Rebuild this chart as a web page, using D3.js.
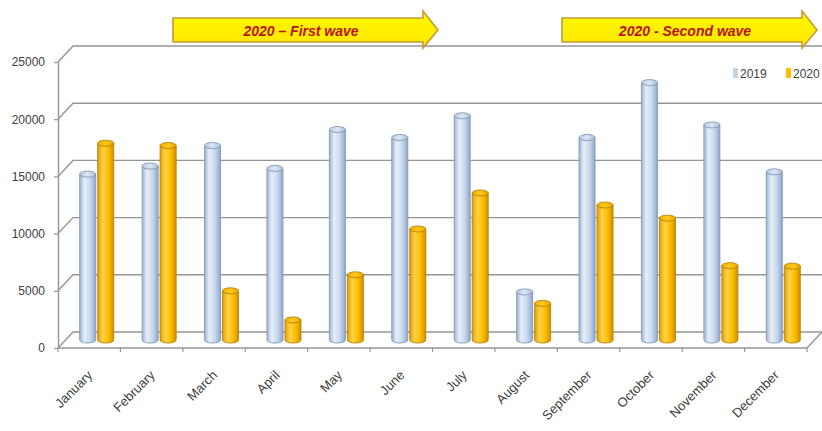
<!DOCTYPE html>
<html>
<head>
<meta charset="utf-8">
<script src="https://cdn.jsdelivr.net/npm/d3@7"></script>
<style>
  html, body { margin: 0; padding: 0; background: #ffffff; }
  svg { display: block; }
</style>
</head>
<body>
<svg id="chart" width="822" height="431"></svg>
<script>
// Monthly totals, 2019 vs 2020
const months = ["January", "February", "March", "April", "May", "June",
                "July", "August", "September", "October", "November", "December"];
const series = ["2019", "2020"];
const values2019 = [14500, 15200, 17000, 15000, 18400, 17700, 19600, 4200, 17700, 22500, 18800, 14700];
const values2020 = [17200, 17000, 4300, 1750, 5700, 9700, 12850, 3200, 11800, 10650, 6500, 6450];
const yTicks = [0, 5000, 10000, 15000, 20000, 25000];
const waveLabels = ["2020 \u2013 First wave", "2020 - Second wave"];

const svg = d3.select("#chart");
const W = 822;

// oblique depth of the 3D box (front face -> back wall)
const DX = 15, DY = -16;
const MX = DX / 2, MY = DY / 2;  // columns stand half-way into the box

const x = d3.scaleBand().domain(months).range([58, 807]);
const xs = d3.scaleBand().domain(series).range([-18, 18]);
const y = d3.scaleLinear().domain([0, 25000]).range([348, 62]);

const gridColor = "#959595";
const textColor = "#404040";
const font = "'Liberation Sans', Arial, sans-serif";

const defs = svg.append("defs");
function hGrad(id, stops) {
  const g = defs.append("linearGradient").attr("id", id)
    .attr("x1", "0%").attr("x2", "100%").attr("y1", "0%").attr("y2", "0%");
  stops.forEach(([o, c]) => g.append("stop").attr("offset", o).attr("stop-color", c));
}
hGrad("gBlue", [["0%", "#9fb4d2"], ["30%", "#e6eef9"], ["65%", "#c9d8ee"], ["100%", "#8fa7c8"]]);
hGrad("gOrange", [["0%", "#e2a000"], ["32%", "#ffd24a"], ["65%", "#ffbf00"], ["100%", "#d09000"]]);
hGrad("gBlueTop", [["0%", "#b7c9e2"], ["50%", "#dce6f4"], ["100%", "#aebfd8"]]);
hGrad("gOrangeTop", [["0%", "#f0b000"], ["50%", "#ffc81a"], ["100%", "#e8a800"]]);
const arrowGrad = defs.append("linearGradient").attr("id", "gArrow")
  .attr("x1", "0%").attr("x2", "0%").attr("y1", "0%").attr("y2", "100%");
arrowGrad.append("stop").attr("offset", "0%").attr("stop-color", "#fffa00");
arrowGrad.append("stop").attr("offset", "100%").attr("stop-color", "#ffe600");

const styles = {
  "2019": { fill: "url(#gBlue)", top: "url(#gBlueTop)", stroke: "#7f97b9", data: values2019 },
  "2020": { fill: "url(#gOrange)", top: "url(#gOrangeTop)", stroke: "#b58200", data: values2020 }
};

// ---- back wall gridlines with side-wall stubs ----
const x0 = x.range()[0], x1 = x.range()[1];
svg.append("g").selectAll("path").data(yTicks).join("path")
  .attr("d", v => `M${x0},${y(v)} L${x0 + DX},${y(v) + DY} L${W},${y(v) + DY}`)
  .attr("fill", "none").attr("stroke", gridColor).attr("stroke-width", 1.4);

// floor front edge and right edge
svg.append("path")
  .attr("d", `M${x0},${y(0)} L${x1},${y(0)} L${x1 + DX},${y(0) + DY}`)
  .attr("fill", "none").attr("stroke", gridColor).attr("stroke-width", 1.4);

// ---- y axis ----
const yAxis = svg.append("g")
  .attr("transform", `translate(${x0},0)`)
  .call(d3.axisLeft(y).tickValues(yTicks).tickSize(4).tickSizeOuter(0).tickPadding(9)
    .tickFormat(d3.format("d")));
yAxis.select(".domain").attr("stroke", gridColor).attr("stroke-width", 1.4);
yAxis.selectAll(".tick line").attr("stroke", gridColor).attr("stroke-width", 1.2);
yAxis.selectAll(".tick text").attr("fill", textColor)
  .style("font-family", font).style("font-size", "12px");

// ---- x axis tick marks at category boundaries ----
const bounds = months.map(m => x(m)).concat([x1]);
svg.append("g").selectAll("line").data(bounds).join("line")
  .attr("x1", d => d).attr("x2", d => d)
  .attr("y1", y(0)).attr("y2", y(0) + 4)
  .attr("stroke", gridColor).attr("stroke-width", 1.2);

// ---- category labels, rotated ----
svg.append("g").selectAll("text").data(months).join("text")
  .attr("transform", m => `translate(${x(m) + x.bandwidth() / 2 + 4},${y(0) + 28}) rotate(-45)`)
  .attr("text-anchor", "end")
  .attr("fill", textColor)
  .style("font-family", font).style("font-size", "13px")
  .text(m => m);

// ---- cylinders ----
const RX = 8, RY = 3;
const bars = [];
months.forEach((m, i) => {
  series.forEach(s => {
    bars.push({ month: m, series: s, value: styles[s].data[i] });
  });
});

const gBars = svg.append("g");
bars.forEach(b => {
  const st = styles[b.series];
  const cx = x(b.month) + x.bandwidth() / 2 + xs(b.series) + xs.bandwidth() / 2 + MX;
  const yb = y(0) + MY;
  const yt = y(b.value) + MY;
  const g = gBars.append("g");
  // body with rounded bottom
  g.append("path")
    .attr("d", `M${cx - RX},${yt} L${cx - RX},${yb} A${RX},${RY} 0 0 0 ${cx + RX},${yb} L${cx + RX},${yt} Z`)
    .attr("fill", st.fill).attr("stroke", st.stroke).attr("stroke-width", 0.9);
  // top cap
  g.append("ellipse")
    .attr("cx", cx).attr("cy", yt).attr("rx", RX).attr("ry", RY)
    .attr("fill", st.top).attr("stroke", st.stroke).attr("stroke-width", 0.9);
});

// ---- legend ----
const legend = svg.append("g").style("font-family", font).style("font-size", "12px");
const legendX = [733, 786];
series.forEach((s, i) => {
  legend.append("rect").attr("x", legendX[i]).attr("y", 68).attr("width", 5).attr("height", 10)
    .attr("fill", s === "2019" ? "#c2d2e8" : "#ffc000");
  legend.append("text").attr("x", legendX[i] + 7).attr("y", 77.5)
    .attr("fill", textColor).text(s);
});

// ---- wave arrows ----
const arrowBoxes = [
  { x0: 173, xb: 423, tip: 438 },
  { x0: 562, xb: 802, tip: 817 }
];
const bodyTop = 18, bodyBot = 42, headTop = 11, headBot = 48, mid = 30;
waveLabels.forEach((label, i) => {
  const a = arrowBoxes[i];
  const pts = [[a.x0, bodyTop], [a.xb, bodyTop], [a.xb, headTop], [a.tip, mid],
               [a.xb, headBot], [a.xb, bodyBot], [a.x0, bodyBot]];
  svg.append("path")
    .attr("d", d3.line()(pts) + "Z")
    .attr("fill", "url(#gArrow)").attr("stroke", "#c49a3a").attr("stroke-width", 1.6)
    .attr("stroke-linejoin", "miter");
  svg.append("text")
    .attr("x", (a.x0 + a.xb) / 2 + 3).attr("y", 35.5)
    .attr("text-anchor", "middle")
    .attr("fill", "#b81414")
    .style("font-family", font).style("font-size", "14px")
    .style("font-weight", "bold").style("font-style", "italic")
    .text(label);
});
</script>
</body>
</html>
